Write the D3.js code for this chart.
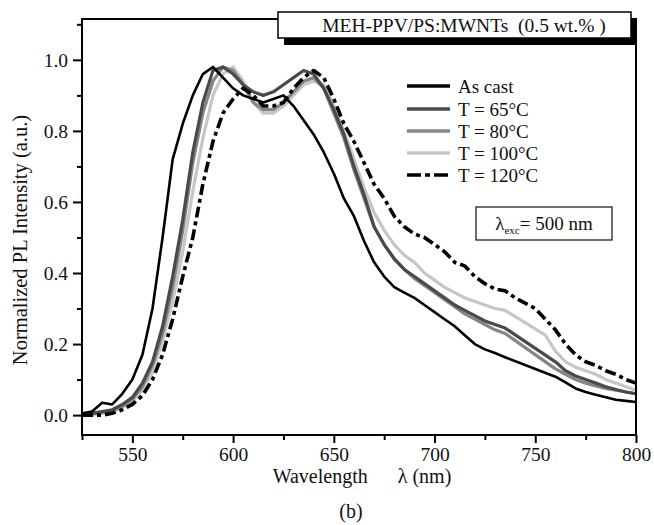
<!DOCTYPE html>
<html>
<head>
<meta charset="utf-8">
<script src="https://cdn.jsdelivr.net/npm/d3@7"></script>
<style>
    body { margin: 0; background: #fff; }
    text { font-family: 'Liberation Serif', 'Times New Roman', serif; fill: #111; }
</style>
</head>
<body>
<script>
// Wavelength grid (nm) and normalized PL values, null = no data point there
const wavelengths = d3.range(525, 801, 5)
const asCast = [0.005, 0.01, 0.035, 0.03, 0.06, 0.10, 0.17, 0.30, 0.50, 0.72, 0.82, 0.90, 0.96, 0.98, 0.95, 0.92, 0.90, 0.89, 0.88, 0.89, 0.90, 0.87, 0.83, 0.79, 0.74, 0.68, 0.61, 0.56, 0.49, 0.43, 0.39, 0.36, 0.345, 0.33, 0.31, 0.29, 0.27, 0.25, 0.225, 0.20, 0.185, 0.175, 0.163, null, null, null, null, 0.108, 0.092, 0.075, 0.065, 0.057, 0.05, 0.043, 0.04, 0.037]
const t65 = [0.0, 0.005, 0.01, 0.015, 0.03, 0.05, 0.09, 0.15, 0.25, 0.39, 0.55, 0.74, 0.88, 0.97, 0.98, 0.96, 0.93, 0.91, 0.90, 0.91, 0.93, 0.95, 0.97, 0.96, 0.92, 0.86, 0.79, 0.70, 0.62, 0.53, 0.48, 0.44, 0.41, 0.39, 0.37, 0.35, 0.33, 0.31, 0.295, 0.28, 0.265, 0.255, 0.245, null, null, null, null, 0.15, 0.125, 0.11, 0.10, 0.09, 0.08, 0.072, 0.065, 0.06]
const t80 = [0.0, 0.005, 0.008, 0.012, 0.025, 0.045, 0.08, 0.14, 0.23, 0.36, 0.52, 0.71, 0.85, 0.94, 0.98, 0.97, 0.93, 0.88, 0.86, 0.86, 0.88, 0.91, 0.94, 0.95, 0.92, 0.85, 0.78, 0.69, 0.61, 0.53, 0.48, 0.44, 0.41, 0.385, 0.365, 0.345, 0.325, 0.305, 0.285, 0.27, 0.255, 0.24, 0.23, null, null, null, null, 0.13, 0.115, 0.10, 0.09, 0.082, 0.075, 0.07, 0.065, 0.06]
const t100 = [0.0, 0.0, 0.005, 0.01, 0.02, 0.04, 0.07, 0.12, 0.21, 0.32, 0.46, 0.63, 0.78, 0.90, 0.96, 0.98, 0.94, 0.88, 0.85, 0.85, 0.87, 0.90, 0.93, 0.94, 0.93, 0.87, 0.80, 0.72, 0.64, 0.57, 0.52, 0.48, 0.45, 0.43, 0.40, 0.38, 0.36, 0.345, 0.33, 0.32, 0.31, 0.30, 0.295, null, null, null, 0.225, 0.18, 0.15, 0.135, 0.125, 0.115, 0.10, 0.09, 0.08, 0.07]
const t120 = [0.0, 0.0, 0.0, 0.005, 0.015, 0.03, 0.055, 0.10, 0.17, 0.27, 0.39, 0.50, 0.65, 0.77, 0.85, 0.89, 0.92, 0.90, 0.87, 0.87, 0.88, 0.92, 0.95, 0.97, 0.95, 0.89, 0.82, 0.77, 0.71, 0.65, 0.61, 0.56, 0.53, 0.51, 0.50, 0.48, 0.46, 0.43, 0.42, 0.39, 0.37, 0.355, 0.35, 0.33, 0.315, 0.30, 0.27, 0.24, 0.20, 0.17, 0.15, 0.14, 0.125, 0.115, 0.10, 0.09]

const seriesNames = ['As cast', 'T = 65°C', 'T = 80°C', 'T = 100°C', 'T = 120°C']
const xTicks = [550, 600, 650, 700, 750, 800]
const xMinor = [525, 575, 625, 675, 725, 775]
const yTicks = [0.0, 0.2, 0.4, 0.6, 0.8, 1.0]
const yMinor = [0.1, 0.3, 0.5, 0.7, 0.9, 1.1]

const W = 654, H = 525
const plot = { left: 82, right: 636, top: 19, bottom: 435 }
const nb = '\u00a0'

const svg = d3.select('body').append('svg')
    .attr('width', W)
    .attr('height', H)

const xScale = d3.scaleLinear()
    .domain([525, 800])
    .range([plot.left, plot.right])

const yScale = d3.scaleLinear()
    .domain([-0.056, 1.115])
    .range([plot.bottom, plot.top])

// series styles
const styles = [
    { data: asCast, color: '#000', width: 2.6, dash: null },
    { data: t65, color: '#4a4a4a', width: 3.2, dash: null },
    { data: t80, color: '#858585', width: 3.2, dash: null },
    { data: t100, color: '#c6c6c6', width: 3.2, dash: null },
    { data: t120, color: '#000', width: 3.6, dash: '11,4,4,4' },
]

svg.append('clipPath').attr('id', 'clip')
    .append('rect')
        .attr('x', plot.left)
        .attr('y', plot.top)
        .attr('width', plot.right - plot.left)
        .attr('height', plot.bottom - plot.top)

const line = d3.line()
    .x(d => xScale(d[0]))
    .y(d => yScale(d[1]))

// Draw light curves first, dash-dot on top
const drawOrder = [3, 2, 1, 0, 4]
drawOrder.forEach(i => {
    const s = styles[i]
    const pts = wavelengths.map((w, j) => [w, s.data[j]]).filter(p => p[1] !== null)
    svg.append('path')
        .datum(pts)
        .attr('clip-path', 'url(#clip)')
        .style('fill', 'none')
        .style('stroke', s.color)
        .style('stroke-width', s.width)
        .style('stroke-linejoin', 'round')
        .style('stroke-dasharray', s.dash)
        .attr('d', line)
})

// Frame
svg.append('rect')
    .attr('x', plot.left)
    .attr('y', plot.top)
    .attr('width', plot.right - plot.left)
    .attr('height', plot.bottom - plot.top)
    .style('fill', 'none')
    .style('stroke', '#000')
    .style('stroke-width', 2)

// Y axis
svg.append('g')
    .attr('transform', `translate(${plot.left},0)`)
    .call(d3.axisLeft(yScale).tickValues(yTicks).tickSize(9).tickPadding(5).tickFormat(d3.format('.1f')))
svg.append('g')
    .attr('transform', `translate(${plot.left},0)`)
    .call(d3.axisLeft(yScale).tickValues(yMinor).tickSize(5).tickFormat(''))

// X axis
svg.append('g')
    .attr('transform', `translate(0,${plot.bottom})`)
    .call(d3.axisBottom(xScale).tickValues(xTicks).tickSize(8).tickPadding(4))
svg.append('g')
    .attr('transform', `translate(0,${plot.bottom})`)
    .call(d3.axisBottom(xScale).tickValues(xMinor).tickSize(5).tickFormat(''))

svg.selectAll('.domain').remove()
svg.selectAll('.tick line').style('stroke', '#000').style('stroke-width', 2)
svg.selectAll('.tick text').style('font-size', '19.5px').style('font-family', "'Liberation Serif', serif").style('fill', '#111')

// Axis titles
svg.append('text')
    .attr('transform', `translate(27,240) rotate(-90)`)
    .attr('text-anchor', 'middle')
    .style('font-size', '20.5px')
    .text('Normalized PL Intensity (a.u.)')

svg.append('text')
    .attr('x', 362)
    .attr('y', 483)
    .attr('text-anchor', 'middle')
    .style('font-size', '20px')
    .text(`Wavelength ${nb.repeat(5)}λ (nm)`)

svg.append('text')
    .attr('x', 351)
    .attr('y', 518)
    .attr('text-anchor', 'middle')
    .style('font-size', '20px')
    .text('(b)')

// Title box with shadow
svg.append('rect')
    .attr('x', 284).attr('y', 18)
    .attr('width', 353).attr('height', 27)
    .style('fill', '#000')
svg.append('rect')
    .attr('x', 278).attr('y', 12)
    .attr('width', 353).attr('height', 26)
    .style('fill', '#fff')
    .style('stroke', '#000')
    .style('stroke-width', 1.5)
svg.append('text')
    .attr('x', 464)
    .attr('y', 31.5)
    .attr('text-anchor', 'middle')
    .style('font-size', '19.5px')
    .text(`MEH-PPV/PS:MWNTs ${nb}(0.5 wt.% )`)

// Legend
const legendY = [86, 109, 131, 153, 175]
styles.forEach((s, i) => {
    svg.append('line')
        .attr('x1', 407).attr('x2', 450)
        .attr('y1', legendY[i]).attr('y2', legendY[i])
        .style('stroke', s.color)
        .style('stroke-width', s.dash ? 3.6 : 3.4)
        .style('stroke-dasharray', s.dash ? '14,4,5,4' : null)
    svg.append('text')
        .attr('x', 458)
        .attr('y', legendY[i] + 6.5)
        .style('font-size', '19px')
        .text(seriesNames[i])
})

// Excitation box
svg.append('rect')
    .attr('x', 476).attr('y', 207)
    .attr('width', 136).attr('height', 33)
    .style('fill', '#fff')
    .style('stroke', '#222')
    .style('stroke-width', 1.3)
const exc = svg.append('text')
    .attr('x', 544)
    .attr('y', 230)
    .attr('text-anchor', 'middle')
    .style('font-size', '19px')
exc.append('tspan').text('λ')
exc.append('tspan').attr('dy', 4).style('font-size', '11px').text('exc')
exc.append('tspan').attr('dy', -4).text('= 500 nm')
</script>
</body>
</html>
